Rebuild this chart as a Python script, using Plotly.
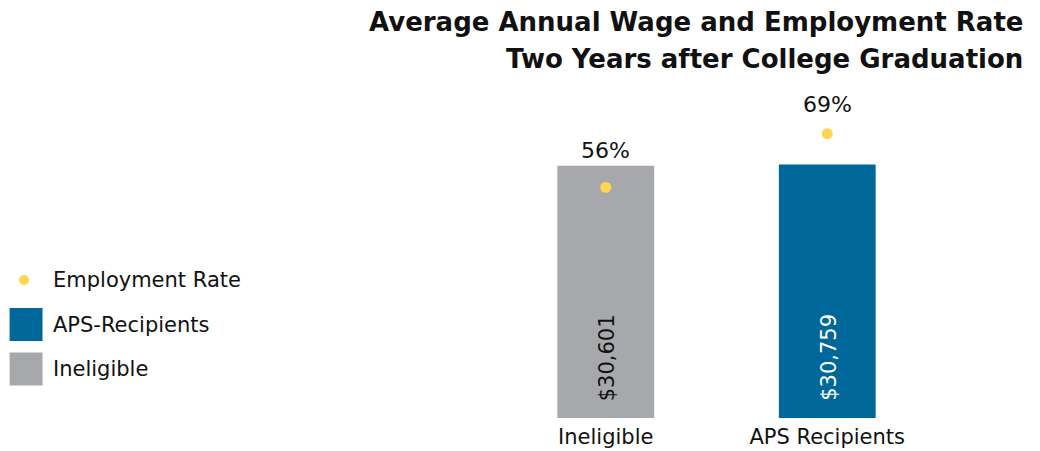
import plotly.graph_objects as go

# Groups and measures
groups = ["Ineligible", "APS Recipients"]
avg_wage = [30601, 30759]
employment_rate = [0.56, 0.69]

bar_colors = ["#A7A8AC", "#00679A"]
bar_text_colors = ["#111111", "#FFFFFF"]
dot_color = "#FFD44F"

title_lines = ["Average Annual Wage and Employment Rate",
               "Two Years after College Graduation"]

# Legend entries (label, swatch kind, colour)
legend_labels = ["Employment Rate", "APS-Recipients", "Ineligible"]
legend_kinds = ["dot", "square", "square"]
legend_colors = [dot_color, "#00679A", "#A7A8AC"]

FONT = "DejaVu Sans"
W, H = 1040, 451
M_L, M_R, M_T, M_B = 494.5, 101.5, 6, 33

fig = go.Figure()

fig.add_trace(go.Bar(
    x=groups,
    y=avg_wage,
    marker=dict(color=bar_colors, line=dict(width=0)),
    showlegend=False,
    hoverinfo="skip",
))

fig.add_trace(go.Scatter(
    x=groups,
    y=employment_rate,
    yaxis="y2",
    mode="markers",
    marker=dict(color=dot_color, size=11),
    showlegend=False,
    hoverinfo="skip",
))

# Wage labels written upward from the base of each bar
for g, v, c in zip(groups, avg_wage, bar_text_colors):
    fig.add_annotation(
        x=g, y=0, xref="x", yref="y",
        text=f"${v:,.0f}", textangle=-90,
        xanchor="center", yanchor="bottom", yshift=15, xshift=1,
        showarrow=False,
        font=dict(family=FONT, size=21, color=c),
    )

# Percentage labels above the employment dots
label_shift = [37, 29]
for g, r, s in zip(groups, employment_rate, label_shift):
    fig.add_annotation(
        x=g, y=r, xref="x", yref="y2",
        text=f"{r*100:.0f}%",
        showarrow=False, yshift=s,
        font=dict(family=FONT, size=22, color="#111111"),
    )

plot_w = W - M_L - M_R
plot_h = H - M_T - M_B
def px_to_paper_x(px):
    return (px - M_L) / plot_w
def px_to_paper_y(py):
    return (H - M_B - py) / plot_h

# Two-line right-aligned heading
for i, line in enumerate(title_lines):
    fig.add_annotation(
        x=px_to_paper_x(1026), y=px_to_paper_y(22 + 37 * i),
        xref="paper", yref="paper", xanchor="right", yanchor="middle",
        showarrow=False, text=f"<b>{line}</b>",
        font=dict(family=FONT, size=26, color="#111111"),
    )

# Custom legend with large swatches
legend_top = 280
legend_step = 44.5
for i, (lab, kind, col) in enumerate(zip(legend_labels, legend_kinds, legend_colors)):
    cy = legend_top + i * legend_step
    if kind == "dot":
        fig.add_shape(type="circle", xref="paper", yref="paper",
                      x0=px_to_paper_x(17.5), x1=px_to_paper_x(27.5),
                      y0=px_to_paper_y(cy + 5), y1=px_to_paper_y(cy - 5),
                      fillcolor=col, line=dict(width=0))
    else:
        fig.add_shape(type="rect", xref="paper", yref="paper",
                      x0=px_to_paper_x(8), x1=px_to_paper_x(41),
                      y0=px_to_paper_y(cy + 16.5), y1=px_to_paper_y(cy - 16.5),
                      fillcolor=col, line=dict(width=0))
    fig.add_annotation(
        x=px_to_paper_x(49), y=px_to_paper_y(cy), xref="paper", yref="paper",
        xanchor="left", yanchor="middle", showarrow=False,
        text=lab, font=dict(family=FONT, size=21, color="#111111"),
    )

fig.update_layout(
    width=W, height=H,
    margin=dict(l=M_L, r=M_R, t=M_T, b=M_B, autoexpand=False),
    paper_bgcolor="white", plot_bgcolor="white",
    bargap=0.563,
    xaxis=dict(
        showgrid=False, zeroline=False, showline=False, ticks="",
        range=[-0.5, 1.5],
        ticklabelstandoff=4,
        tickfont=dict(family=FONT, size=21, color="#111111"),
        automargin=False,
    ),
    yaxis=dict(
        range=[0, 50000], visible=False, showgrid=False, zeroline=False,
    ),
    yaxis2=dict(
        range=[0, 1], overlaying="y", visible=False, showgrid=False, zeroline=False,
    ),
)

fig.write_html("out.html")
